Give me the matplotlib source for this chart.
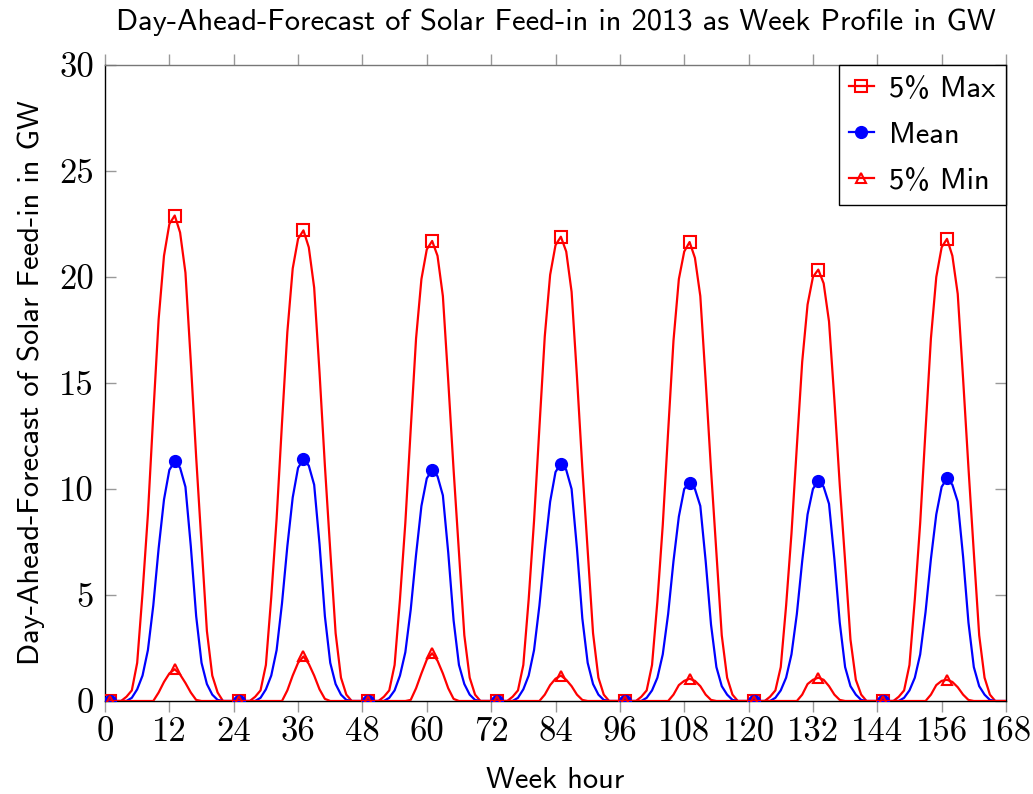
import matplotlib
matplotlib.use("Agg")
import matplotlib.pyplot as plt
import numpy as np

# ---------------- data (hourly, hour 1..168) ----------------
max_d1 = [0, 0, 0, 0.2, 0.5, 1.8, 5.1, 8.8, 13.5, 18.0, 21.0, 22.5, 22.9, 22.1, 20.2, 16.0, 11.5, 7.4, 3.3, 1.2, 0.4, 0, 0, 0]
max_d2 = [0, 0, 0, 0.2, 0.5, 1.7, 4.9, 8.6, 13.1, 17.4, 20.4, 21.8, 22.2, 21.4, 19.5, 15.5, 11.1, 7.1, 3.2, 1.1, 0.3, 0, 0, 0]
max_d3 = [0, 0, 0, 0.2, 0.5, 1.7, 4.8, 8.4, 12.8, 17.1, 19.9, 21.3, 21.7, 21.0, 19.1, 15.1, 10.9, 7.0, 3.1, 1.1, 0.3, 0, 0, 0]
max_d4 = [0, 0, 0, 0.2, 0.5, 1.7, 4.8, 8.5, 12.9, 17.2, 20.1, 21.5, 21.9, 21.2, 19.3, 15.3, 11.0, 7.1, 3.2, 1.1, 0.3, 0, 0, 0]
max_d5 = [0, 0, 0, 0.2, 0.5, 1.7, 4.7, 8.3, 12.7, 17.0, 19.9, 21.2, 21.65, 20.9, 19.1, 15.1, 10.9, 7.0, 3.1, 1.1, 0.3, 0, 0, 0]
max_d6 = [0, 0, 0, 0.2, 0.5, 1.6, 4.5, 7.9, 12.0, 16.0, 18.7, 20.0, 20.35, 19.7, 17.9, 14.2, 10.2, 6.6, 2.9, 1.0, 0.3, 0, 0, 0]
max_d7 = [0, 0, 0, 0.2, 0.5, 1.7, 4.8, 8.4, 12.8, 17.1, 20.0, 21.4, 21.8, 21.0, 19.2, 15.2, 11.0, 7.0, 3.1, 1.1, 0.3, 0, 0, 0]

mean_d1 = [0, 0, 0, 0, 0.15, 0.55, 1.2, 2.4, 4.5, 7.2, 9.5, 10.9, 11.3, 11.0, 10.1, 7.3, 4.0, 1.8, 0.8, 0.3, 0.05, 0, 0, 0]
mean_d2 = [0, 0, 0, 0, 0.15, 0.55, 1.2, 2.4, 4.6, 7.3, 9.6, 11.0, 11.4, 11.1, 10.2, 7.4, 4.0, 1.8, 0.8, 0.3, 0.05, 0, 0, 0]
mean_d3 = [0, 0, 0, 0, 0.15, 0.5, 1.2, 2.3, 4.3, 6.9, 9.2, 10.5, 10.9, 10.6, 9.7, 7.0, 3.8, 1.7, 0.8, 0.3, 0.05, 0, 0, 0]
mean_d4 = [0, 0, 0, 0, 0.15, 0.55, 1.2, 2.4, 4.5, 7.1, 9.4, 10.8, 11.2, 10.9, 10.0, 7.2, 3.9, 1.8, 0.8, 0.3, 0.05, 0, 0, 0]
mean_d5 = [0, 0, 0, 0, 0.15, 0.5, 1.1, 2.2, 4.1, 6.6, 8.7, 10.0, 10.3, 10.0, 9.2, 6.6, 3.6, 1.6, 0.7, 0.3, 0.05, 0, 0, 0]
mean_d6 = [0, 0, 0, 0, 0.15, 0.5, 1.1, 2.2, 4.1, 6.6, 8.8, 10.0, 10.4, 10.1, 9.3, 6.7, 3.7, 1.6, 0.7, 0.3, 0.05, 0, 0, 0]
mean_d7 = [0, 0, 0, 0, 0.15, 0.5, 1.1, 2.2, 4.2, 6.7, 8.8, 10.1, 10.5, 10.2, 9.4, 6.8, 3.7, 1.6, 0.7, 0.3, 0.05, 0, 0, 0]

min_d1 = [0, 0, 0, 0, 0, 0, 0, 0, 0, 0.4, 0.9, 1.3, 1.5, 1.25, 0.85, 0.4, 0.05, 0, 0, 0, 0, 0, 0, 0]
min_d2 = [0, 0, 0, 0, 0, 0, 0, 0, 0, 0.5, 1.2, 1.8, 2.1, 1.75, 1.2, 0.55, 0.1, 0, 0, 0, 0, 0, 0, 0]
min_d3 = [0, 0, 0, 0, 0, 0, 0, 0, 0.05, 0.6, 1.3, 1.95, 2.25, 1.9, 1.3, 0.6, 0.1, 0, 0, 0, 0, 0, 0, 0]
min_d4 = [0, 0, 0, 0, 0, 0, 0, 0, 0, 0.3, 0.75, 1.05, 1.2, 1.0, 0.7, 0.3, 0.05, 0, 0, 0, 0, 0, 0, 0]
min_d5 = [0, 0, 0, 0, 0, 0, 0, 0, 0, 0.3, 0.75, 0.95, 1.05, 0.95, 0.7, 0.3, 0.05, 0, 0, 0, 0, 0, 0, 0]
min_d6 = [0, 0, 0, 0, 0, 0, 0, 0, 0, 0.3, 0.8, 1.0, 1.1, 1.0, 0.7, 0.3, 0.05, 0, 0, 0, 0, 0, 0, 0]
min_d7 = [0, 0, 0, 0, 0, 0, 0, 0, 0, 0.3, 0.75, 0.95, 1.0, 0.9, 0.65, 0.3, 0.05, 0, 0, 0, 0, 0, 0, 0]

week_hours = list(range(1, 169))
x_ticks = [0, 12, 24, 36, 48, 60, 72, 84, 96, 108, 120, 132, 144, 156, 168]
y_ticks = [0, 5, 10, 15, 20, 25, 30]
series_labels = ["5% Max", "Mean", "5% Min"]

max_vals = max_d1 + max_d2 + max_d3 + max_d4 + max_d5 + max_d6 + max_d7
mean_vals = mean_d1 + mean_d2 + mean_d3 + mean_d4 + mean_d5 + mean_d6 + mean_d7
min_vals = min_d1 + min_d2 + min_d3 + min_d4 + min_d5 + min_d6 + min_d7

# ---------------- figure ----------------
plt.rcParams['font.family'] = ['cmss10', 'DejaVu Sans']
plt.rcParams['axes.unicode_minus'] = False

fig = plt.figure(figsize=(10.33, 7.94), dpi=100)
ax = fig.add_axes([105 / 1033, 1 - 701 / 794, (1006 - 105) / 1033, (701 - 65) / 794])

RED = '#ff0000'
BLUE = '#0000ff'
ax.plot(week_hours, max_vals, color=RED, lw=1.6, marker='s', markersize=8.5,
        markerfacecolor='none', markeredgecolor=RED, markeredgewidth=1.5,
        markevery=12, label=series_labels[0], zorder=3)
ax.plot(week_hours, mean_vals, color=BLUE, lw=1.6, marker='o', markersize=8.5,
        markerfacecolor=BLUE, markeredgecolor=BLUE,
        markevery=12, label=series_labels[1], zorder=4)
ax.plot(week_hours, min_vals, color=RED, lw=1.6, marker='^', markersize=7.5,
        markerfacecolor='none', markeredgecolor=RED, markeredgewidth=1.5,
        markevery=12, label=series_labels[2], zorder=5)

ax.set_xlim(0, 168)
ax.set_ylim(0, 30)
ax.set_xticks(x_ticks)
ax.set_yticks(y_ticks)
ax.set_xticklabels([str(t) for t in x_ticks], fontfamily='cmr10', fontsize=25)
ax.set_yticklabels([str(t) for t in y_ticks], fontfamily='cmr10', fontsize=25)

ax.tick_params(axis='x', which='both', direction='out', length=8, width=1,
               color='#999999', top=True, bottom=True, pad=3)
ax.tick_params(axis='y', which='both', direction='in', length=8, width=1,
               color='#999999', left=True, right=True, pad=8)

for side in ['left', 'bottom', 'right']:
    ax.spines[side].set_color('black')
    ax.spines[side].set_linewidth(1.0)
ax.spines['top'].set_color('#777777')
ax.spines['top'].set_linewidth(1.0)

ax.set_xlabel("Week hour", fontsize=22, labelpad=14)
ax.set_ylabel("Day-Ahead-Forecast of Solar Feed-in in GW", fontsize=22, labelpad=10)
ax.set_title("Day-Ahead-Forecast of Solar Feed-in in 2013 as Week Profile in GW",
             fontsize=22, pad=25)

leg = ax.legend(loc='upper right', fontsize=22, frameon=True, fancybox=False,
                edgecolor='black', framealpha=1, handlelength=0.8,
                handletextpad=0.5, borderpad=0.35, labelspacing=0.6,
                borderaxespad=0.0)
leg.get_frame().set_linewidth(1.0)

fig.savefig("out.png", dpi=100)
